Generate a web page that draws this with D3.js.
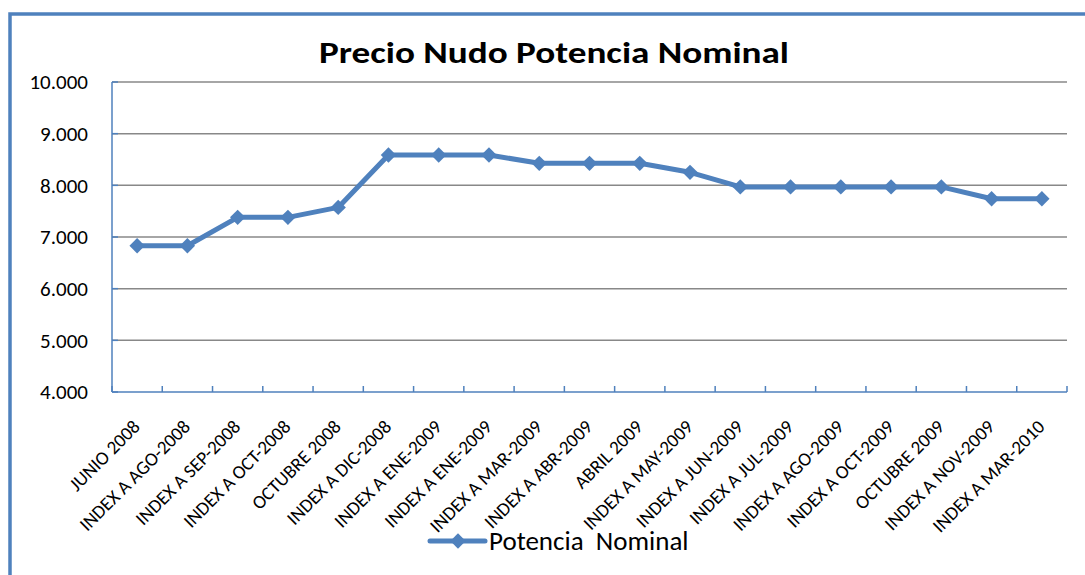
<!DOCTYPE html>
<html>
<head>
<meta charset="utf-8">
<script src="https://cdn.jsdelivr.net/npm/d3@7"></script>
<style>
  body { margin: 0; background: #fff; }
  svg { display: block; font-family: Carlito, Lato, sans-serif; }
</style>
</head>
<body>
<div id="chart"></div>
<script>
// Data
const categories = [
  "JUNIO 2008", "INDEX A AGO-2008", "INDEX A SEP-2008", "INDEX A OCT-2008",
  "OCTUBRE 2008", "INDEX A DIC-2008", "INDEX A ENE-2009", "INDEX A ENE-2009",
  "INDEX A MAR-2009", "INDEX A ABR-2009", "ABRIL 2009", "INDEX A MAY-2009",
  "INDEX A JUN-2009", "INDEX A JUL-2009", "INDEX A AGO-2009", "INDEX A OCT-2009",
  "OCTUBRE 2009", "INDEX A NOV-2009", "INDEX A MAR-2010"
];
const potenciaNominal = [
  6830, 6830, 7380, 7380, 7573, 8587, 8587, 8587, 8426, 8426,
  8426, 8252, 7970, 7970, 7970, 7970, 7970, 7740, 7740
];
const yTicks = [4000, 5000, 6000, 7000, 8000, 9000, 10000];
const seriesName = "Potencia  Nominal";
const chartTitle = "Precio Nudo Potencia Nominal";

function buildLineChart() {
  const width = 1085;
  const height = 575;
  const plot = { left: 112, right: 1067, top: 82, bottom: 392 };
  const blue = "#4f81bd";
  const font = "Carlito, Lato, sans-serif";

  const svg = d3.select("#chart")
    .append("svg")
    .attr("width", width)
    .attr("height", height);

  // outer chart frame (cut off at the right and bottom)
  svg.append("rect")
    .attr("x", 10).attr("y", 14)
    .attr("width", 1200).attr("height", 1000)
    .attr("fill", "none")
    .attr("stroke", blue)
    .attr("stroke-width", 3.5);

  const idx = d3.range(categories.length);
  const xScale = d3.scaleBand()
    .domain(idx)
    .range([plot.left, plot.right])
    .padding(0);
  const yScale = d3.scaleLinear()
    .domain([4000, 10000])
    .range([plot.bottom, plot.top]);

  const es = d3.formatLocale({ decimal: ",", thousands: ".", grouping: [3], currency: ["$", ""] });
  const fmt = es.format(",");

  // gridlines
  svg.append("g")
    .selectAll("line")
    .data(yTicks.filter((d) => d > 4000))
    .enter()
    .append("line")
    .attr("x1", plot.left).attr("x2", plot.right)
    .attr("y1", (d) => yScale(d)).attr("y2", (d) => yScale(d))
    .attr("stroke", "#888")
    .attr("stroke-width", 1.5);

  // y axis
  const yAxis = d3.axisLeft(yScale).tickValues(yTicks).tickFormat(fmt).tickSize(0).tickPadding(24);
  const gy = svg.append("g")
    .attr("transform", `translate(${plot.left},0)`)
    .call(yAxis);
  gy.select(".domain").remove();
  gy.selectAll("text")
    .attr("font-size", 21)
    .attr("fill", "#000")
    .style("font-family", font);

  // y axis tick marks (inside)
  svg.append("g")
    .selectAll("line")
    .data(yTicks)
    .enter()
    .append("line")
    .attr("x1", plot.left).attr("x2", plot.left + 6)
    .attr("y1", (d) => yScale(d)).attr("y2", (d) => yScale(d))
    .attr("stroke", blue)
    .attr("stroke-width", 1.5);

  // x axis labels
  const xAxis = d3.axisBottom(xScale).tickFormat((i) => categories[i]).tickSize(0);
  const gx = svg.append("g")
    .attr("transform", `translate(0,${plot.bottom})`)
    .call(xAxis);
  gx.select(".domain").remove();
  gx.selectAll("text")
    .attr("font-size", 19)
    .attr("fill", "#000")
    .style("font-family", font)
    .attr("text-anchor", "end")
    .attr("dy", null)
    .attr("y", 0)
    .attr("transform", "translate(4,36) rotate(-45)");

  // x axis tick marks at band boundaries
  svg.append("g")
    .selectAll("line")
    .data(d3.range(categories.length + 1))
    .enter()
    .append("line")
    .attr("x1", (i) => plot.left + i * xScale.bandwidth())
    .attr("x2", (i) => plot.left + i * xScale.bandwidth())
    .attr("y1", plot.bottom).attr("y2", plot.bottom - 6)
    .attr("stroke", blue)
    .attr("stroke-width", 1.5);

  // axis lines
  svg.append("line")
    .attr("x1", plot.left).attr("x2", plot.left)
    .attr("y1", plot.top).attr("y2", plot.bottom)
    .attr("stroke", blue).attr("stroke-width", 1.5);
  svg.append("line")
    .attr("x1", plot.left).attr("x2", plot.right)
    .attr("y1", plot.bottom).attr("y2", plot.bottom)
    .attr("stroke", blue).attr("stroke-width", 1.5);

  // series line
  const cx = (i) => xScale(i) + xScale.bandwidth() / 2;
  const line = d3.line()
    .x((d, i) => cx(i))
    .y((d) => yScale(d));
  svg.append("path")
    .datum(potenciaNominal)
    .attr("d", line)
    .attr("fill", "none")
    .attr("stroke", blue)
    .attr("stroke-width", 5)
    .attr("stroke-linejoin", "round");

  const diamond = d3.symbol().type(d3.symbolDiamond2).size(150);
  svg.append("g")
    .selectAll("path")
    .data(potenciaNominal)
    .enter()
    .append("path")
    .attr("d", diamond)
    .attr("transform", (d, i) => `translate(${cx(i)},${yScale(d)})`)
    .attr("fill", blue);

  // title
  svg.append("text")
    .attr("x", 554).attr("y", 63)
    .attr("text-anchor", "middle")
    .attr("font-size", 31)
    .attr("font-weight", "bold")
    .attr("textLength", 470)
    .attr("lengthAdjust", "spacingAndGlyphs")
    .text(chartTitle);

  // legend
  const lg = svg.append("g");
  lg.append("line")
    .attr("x1", 430).attr("x2", 485)
    .attr("y1", 541).attr("y2", 541)
    .attr("stroke", blue).attr("stroke-width", 5)
    .attr("stroke-linecap", "round");
  lg.append("path")
    .attr("d", diamond)
    .attr("transform", "translate(458,541)")
    .attr("fill", blue);
  lg.append("text")
    .attr("x", 489).attr("y", 550)
    .attr("font-size", 27)
    .style("white-space", "pre")
    .text(seriesName);
}

window.onload = buildLineChart;
</script>
</body>
</html>
